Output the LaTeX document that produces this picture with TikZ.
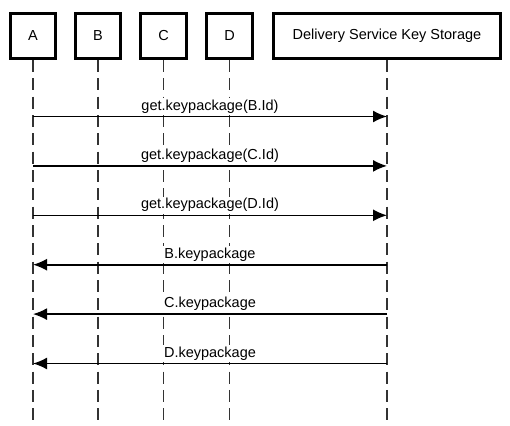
\documentclass[tikz,border=0pt]{standalone}
\usepackage{fontspec}
\setmainfont{Liberation Sans}
\usetikzlibrary{arrows.meta}

\begin{document}
\begin{tikzpicture}[x=1pt, y=-1pt, >={Latex[length=14pt,width=12pt]},
		actor/.style={draw, line width=2.6pt, minimum width=45.5pt, minimum height=45.5pt, inner sep=0pt, font=\fontsize{14.5}{17}\selectfont},
		lifeline/.style={draw=black!80, line width=1.8pt, dash pattern=on 12pt off 6.33pt},
		msg/.style={->, line width=1.6pt},
		msglabel/.style={midway, above=1pt, inner sep=1.5pt, fill=white, font=\fontsize{14.5}{17}\selectfont}]
		\useasboundingbox (0,0) rectangle (510,425);
		%participants
		\node[actor] (A) at (33,36) {A};
		\node[actor] (B) at (98,36) {B};
		\node[actor] (C) at (163.5,36) {C};
		\node[actor] (D) at (229.5,36) {D};
		\node[actor, minimum width=227.5pt] (DS) at (387,36) {Delivery Service Key Storage};
		%lifelines
		\coordinate (Aend) at (33,421);
		\coordinate (Bend) at (98,421);
		\coordinate (Cend) at (163.5,421);
		\coordinate (Dend) at (229.5,421);
		\coordinate (DSend) at (387,421);
		\draw[lifeline] (A.south) -- (Aend);
		\draw[lifeline] (B.south) -- (Bend);
		\draw[lifeline] (C.south) -- (Cend);
		\draw[lifeline] (D.south) -- (Dend);
		\draw[lifeline] (DS.south) -- (DSend);
		%requests
		\coordinate (a1) at (33,116.5);   \coordinate (s1) at (387,116.5);
		\coordinate (a2) at (33,165.9);   \coordinate (s2) at (387,165.9);
		\coordinate (a3) at (33,215.3);   \coordinate (s3) at (387,215.3);
		\draw[msg] (a1) -- (s1) node [msglabel] {get.keypackage(B.Id)};
		\draw[msg] (a2) -- (s2) node [msglabel] {get.keypackage(C.Id)};
		\draw[msg] (a3) -- (s3) node [msglabel] {get.keypackage(D.Id)};
		%responses
		\coordinate (a4) at (33,264.7);   \coordinate (s4) at (387,264.7);
		\coordinate (a5) at (33,314.1);   \coordinate (s5) at (387,314.1);
		\coordinate (a6) at (33,363.5);   \coordinate (s6) at (387,363.5);
		\draw[msg] (s4) -- (a4) node [msglabel] {B.keypackage};
		\draw[msg] (s5) -- (a5) node [msglabel] {C.keypackage};
		\draw[msg] (s6) -- (a6) node [msglabel] {D.keypackage};
	\end{tikzpicture}
\end{document}
